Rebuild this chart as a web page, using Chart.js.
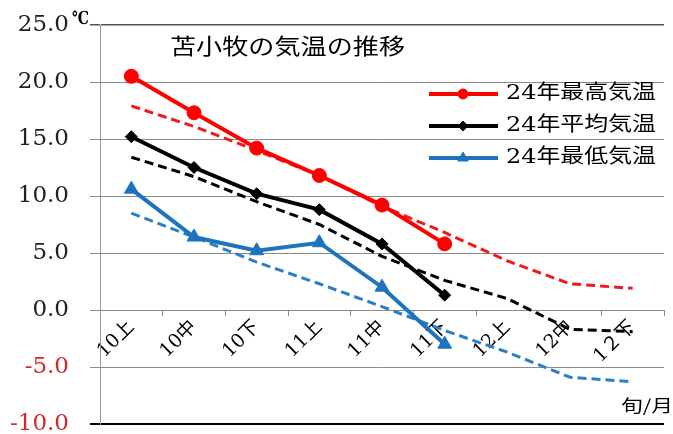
<!DOCTYPE html>
<html><head><meta charset="utf-8">
<script src="https://cdn.jsdelivr.net/npm/chart.js@4"></script>
<style>html,body{margin:0;padding:0;background:#fff;}#wrap{width:673px;height:434px;}</style>
</head><body><div id="wrap"><canvas id="c" width="673" height="434"></canvas></div>
<script>
const categories = ['10上','10中','10下','11上','11中','11下','12上','12中','1２下'];
const max24 = [20.5, 17.3, 14.2, 11.8, 9.2, 5.8, null, null, null];
const avg24 = [15.2, 12.5, 10.2, 8.8, 5.8, 1.3, null, null, null];
const min24 = [10.6, 6.4, 5.2, 5.9, 2.0, -3.0, null, null, null];
const maxNormal = [17.9, 16.1, 14.0, 11.8, 9.1, 6.8, 4.3, 2.3, 1.9];
const avgNormal = [13.4, 11.7, 9.5, 7.5, 4.7, 2.6, 1.0, -1.7, -1.9];
const minNormal = [8.5, 6.4, 4.2, 2.3, 0.3, -1.8, -3.7, -5.9, -6.3];
const yTicks = [-10, -5, 0, 5, 10, 15, 20, 25];
const legendLabels = ['24年最高気温', '24年平均気温', '24年最低気温'];
const titleText = '苫小牧の気温の推移';
const unitText = '℃';
const xUnitText = '旬/月';

const RED = '#ff0000', BLACK = '#000000', BLUE = '#1e73be';
const SERIF = "'DejaVu Serif', 'Noto Sans CJK JP', serif";
const CJK = "'Noto Sans CJK JP', 'DejaVu Serif', serif";

function solid(label, data, color, style, r, lr) {
  return {label, data, borderColor: color, backgroundColor: color, borderWidth: 4,
    pointStyle: style, pointRadius: r, pointHoverRadius: r, pointBorderWidth: 1, tension: 0,
    spanGaps: false, order: 0, legendRadius: lr};
}
function dashed(label, data, color) {
  return {label, data, borderColor: color, backgroundColor: color, borderWidth: 3,
    borderDash: [9, 5], pointRadius: 0, tension: 0, order: 1};
}

function drawStretched(ctx, text, x, y, targetW, font) {
  ctx.save();
  ctx.font = font;
  ctx.textBaseline = 'middle';
  ctx.textAlign = 'left';
  const w = ctx.measureText(text).width;
  ctx.translate(x, y);
  ctx.scale(targetW / w, 1);
  ctx.fillText(text, 0, 0);
  ctx.restore();
}

const overlay = {
  id: 'overlay',
  afterDraw(chart) {
    const ctx = chart.ctx;
    ctx.save();
    ctx.fillStyle = '#000';
    drawStretched(ctx, titleText, 170, 46, 235, "22px " + CJK);
    drawStretched(ctx, unitText, 72, 19, 17, "bold 18px " + SERIF);
    drawStretched(ctx, xUnitText, 621, 406, 52, "17px " + CJK);
    const ys = [94, 126, 158];
    [0, 1, 2].forEach(i => {
      const ds = chart.data.datasets[i];
      const y = ys[i];
      ctx.save();
      ctx.strokeStyle = ds.borderColor;
      ctx.lineWidth = 4;
      ctx.beginPath(); ctx.moveTo(429, y); ctx.lineTo(498, y); ctx.stroke();
      ctx.fillStyle = ds.borderColor;
      ctx.lineWidth = 1;
      Chart.helpers.drawPoint(ctx, {pointStyle: ds.pointStyle, radius: ds.legendRadius, rotation: 0, borderWidth: 1}, 463, y);
      ctx.restore();
      ctx.fillStyle = '#000';
      drawStretched(ctx, ds.label, 506, y, 150, "20px " + SERIF);
    });
    ctx.restore();
  }
};

new Chart(document.getElementById('c'), {
  type: 'line',
  data: {
    labels: categories,
    datasets: [
      solid(legendLabels[0], max24, RED, 'circle', 7, 5),
      solid(legendLabels[1], avg24, BLACK, 'rectRot', 6, 5),
      solid(legendLabels[2], min24, BLUE, 'triangle', 8, 6),
      dashed('最高平年', maxNormal, '#f01a1a'),
      dashed('平均平年', avgNormal, BLACK),
      dashed('最低平年', minNormal, '#2a7fc8')
    ]
  },
  options: {
    responsive: false,
    animation: false,
    devicePixelRatio: 1,
    layout: {padding: {top: 25, bottom: 10, left: 0, right: 0}},
    plugins: {legend: {display: false}, title: {display: false}, tooltip: {enabled: false}},
    scales: {
      x: {
        type: 'category',
        position: {y: 0},
        offset: true,
        border: {display: false},
        grid: {offset: true, drawOnChartArea: false, drawTicks: true, tickLength: 6, color: '#888'},
        ticks: {minRotation: 45, maxRotation: 45, autoSkip: false, padding: 0, color: '#000',
          font: {family: SERIF, size: 19}},
        afterFit(s) { s.paddingLeft = 0; s.paddingRight = 0; }
      },
      y: {
        min: -10, max: 25,
        afterBuildTicks(s) { s.ticks = yTicks.map(v => ({value: v})); },
        afterFit(s) { s.width = 100; s.paddingTop = 0; s.paddingBottom = 0; },
        border: {display: true, color: '#999', width: 1},
        grid: {
          drawTicks: true, tickLength: 10,
          color: c => c.tick && c.tick.value === -10 ? '#000' : (c.tick && c.tick.value === 25 ? '#555' : '#8a8a8a'),
          lineWidth: c => c.tick && c.tick.value === -10 ? 2 : (c.tick && c.tick.value === 25 ? 1.5 : 1)
        },
        ticks: {
          padding: 21,
          color: c => c.tick.value < 0 ? '#d02b2b' : '#222',
          font: {family: SERIF, size: 23},
          callback: v => Number(v).toFixed(1)
        }
      }
    }
  },
  plugins: [overlay]
});
</script>
</body></html>
